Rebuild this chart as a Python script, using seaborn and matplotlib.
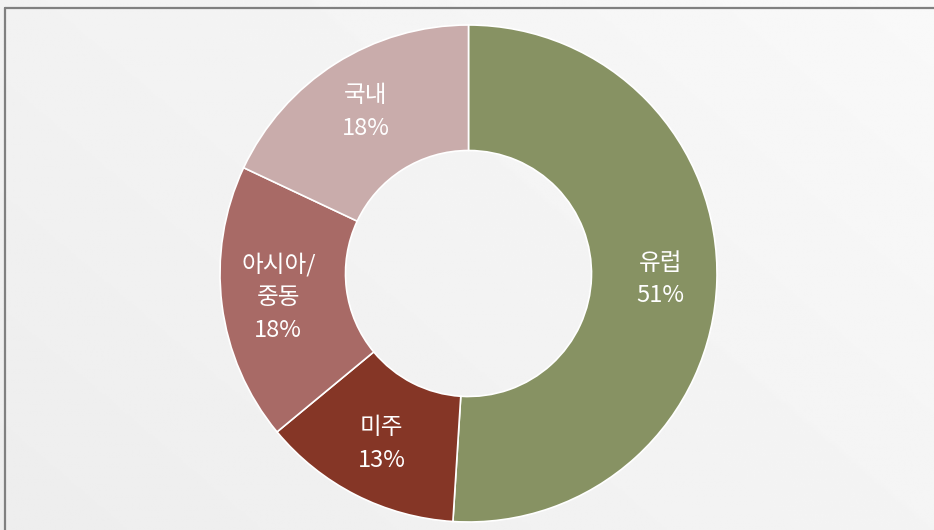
import numpy as np
import matplotlib
matplotlib.use('Agg')
import matplotlib.pyplot as plt
import seaborn as sns

# data
regions = ['유럽', '미주', '아시아/\n중동', '국내']
shares = [51, 13, 18, 18]
colors = ['#879263', '#853626', '#a86a66', '#c9acab']

sns.set_theme(style='white')
plt.rcParams['font.family'] = ['Noto Sans CJK KR', 'DejaVu Sans']

W, H = 934, 530
fig = plt.figure(figsize=(W / 100, H / 100), dpi=100)
ax = fig.add_axes([0, 0, 1, 1])

# light gray gradient background (lighter towards top right)
gx, gy = np.meshgrid(np.linspace(0, 1, 400), np.linspace(0, 1, 240))
grad = 0.93 + 0.045 * (0.6 * gx + 0.4 * gy)
ax.imshow(grad, extent=[0, W, 0, H], origin='lower', cmap='gray',
          vmin=0, vmax=1, aspect='auto', interpolation='bilinear', zorder=0)

# frame lines top / left
ax.plot([5, W], [H - 8, H - 8], color='#808080', lw=1.6, zorder=1)
ax.plot([5, 5], [0, H - 8], color='#808080', lw=1.6, zorder=1)

cx, cy, R = 468.5, H - 273.5, 248.5
ring = 125.5

wedges, _ = ax.pie(shares, colors=colors, startangle=90, counterclock=False,
                   center=(cx, cy), radius=R, frame=True,
                   wedgeprops=dict(width=ring, edgecolor='white', linewidth=1.2))
ax.set_xlim(0, W)
ax.set_ylim(0, H)
ax.set_aspect('equal')
ax.axis('off')
for w in wedges:
    w.set_zorder(2)

label_r = R - ring / 2 + 6
for w, name, val in zip(wedges, regions, shares):
    mid = np.deg2rad((w.theta1 + w.theta2) / 2)
    x = cx + label_r * np.cos(mid)
    y = cy + label_r * np.sin(mid)
    ax.text(x, y, name + '\n' + str(val) + '%', ha='center', va='center',
            color='white', fontsize=17, linespacing=1.55, zorder=3)

fig.savefig('out.png', dpi=100)
